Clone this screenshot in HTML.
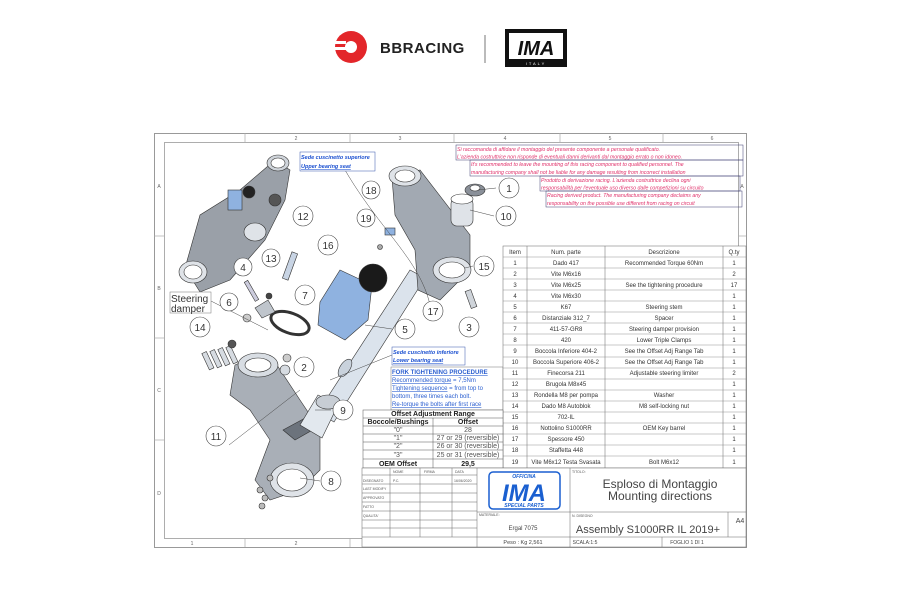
<!DOCTYPE html>
<html><head><meta charset="utf-8"><style>
html,body{margin:0;padding:0;background:#fff;width:900px;height:600px;overflow:hidden}
svg{display:block}
text{font-family:"Liberation Sans",sans-serif}
</style></head><body>
<svg width="900" height="600" viewBox="0 0 900 600" xmlns="http://www.w3.org/2000/svg">
<!-- header logos -->
<g>
<circle cx="351" cy="47" r="16" fill="#e3262a"/>
<circle cx="351" cy="47" r="6" fill="#fff"/>
<rect x="332" y="41" width="14" height="3" fill="#fff"/><rect x="332" y="47" width="14" height="3" fill="#fff"/>
<text x="380" y="53" font-size="15" font-weight="bold" fill="#222" letter-spacing="0.5">BBRACING</text>
<line x1="485" y1="35" x2="485" y2="63" stroke="#777" stroke-width="1"/>
<rect x="505" y="29" width="62" height="38" fill="#111"/>
<rect x="509" y="33" width="54" height="26" fill="#fff"/>
<text x="536" y="55" font-size="20" font-weight="bold" font-style="italic" text-anchor="middle" fill="#111">IMA</text>
<text x="536" y="65" font-size="4" fill="#fff" text-anchor="middle" letter-spacing="2">ITALY</text>
</g>
<!-- frame -->
<rect x="154.5" y="133.5" width="592" height="414" fill="#fff" stroke="#999" stroke-width="1"/>
<rect x="164.5" y="142.5" width="574" height="396" fill="none" stroke="#999" stroke-width="0.8"/>
<g stroke="#aaa" stroke-width="0.7">
<line x1="245" y1="133" x2="245" y2="142"/><line x1="350" y1="133" x2="350" y2="142"/><line x1="454" y1="133" x2="454" y2="142"/><line x1="560" y1="133" x2="560" y2="142"/><line x1="663" y1="133" x2="663" y2="142"/>
<line x1="245" y1="538" x2="245" y2="547"/><line x1="350" y1="538" x2="350" y2="547"/>
<line x1="154" y1="236" x2="164" y2="236"/><line x1="154" y1="338" x2="164" y2="338"/><line x1="154" y1="440" x2="164" y2="440"/>
<line x1="738" y1="236" x2="746" y2="236"/><line x1="738" y1="338" x2="746" y2="338"/>
</g>
<g font-size="5" fill="#666" text-anchor="middle">
<text x="296" y="140">2</text><text x="400" y="140">3</text><text x="505" y="140">4</text><text x="610" y="140">5</text><text x="712" y="140">6</text>
<text x="192" y="545">1</text><text x="296" y="545">2</text>
<text x="159" y="188">A</text><text x="159" y="290">B</text><text x="159" y="392">C</text><text x="159" y="495">D</text>
<text x="742" y="188">A</text><text x="742" y="290">B</text><text x="742" y="392">C</text>
</g>
<!-- parts: small assembled view top-left -->
<g stroke="#333" stroke-width="0.6">
<path d="M185 268 L200 215 L240 190 L275 160 L290 170 L285 200 L265 240 L230 280 L200 292 Z" fill="#9aa0a8"/>
<ellipse cx="193" cy="272" rx="14" ry="11" fill="#dfe3e8"/>
<ellipse cx="193" cy="272" rx="9" ry="7" fill="#fff"/>
<ellipse cx="278" cy="163" rx="11" ry="8" fill="#cfd4da"/>
<ellipse cx="278" cy="163" rx="7" ry="5" fill="#fff"/>
<ellipse cx="255" cy="232" rx="11" ry="9" fill="#dfe3e8"/>
<rect x="228" y="190" width="14" height="20" fill="#8fb2e0"/>
<circle cx="249" cy="192" r="6" fill="#222"/>
<circle cx="275" cy="200" r="6" fill="#555"/>
</g>
<!-- lower triple clamp -->
<g stroke="#333" stroke-width="0.6">
<path d="M235 365 L250 358 L275 362 L300 400 L320 430 L320 470 L300 490 L270 500 L255 480 L270 440 L250 410 L230 395 Z" fill="#a9afb7"/>
<ellipse cx="258" cy="365" rx="20" ry="12" fill="#d8dde3"/>
<ellipse cx="258" cy="365" rx="13" ry="7" fill="#fff"/>
<ellipse cx="292" cy="480" rx="22" ry="17" fill="#dfe3e8"/>
<ellipse cx="292" cy="480" rx="15" ry="11" fill="#fff"/>
<path d="M283 430 L320 410 L330 420 L295 440Z" fill="#6c737c"/>
<g fill="#d6dbe1"><rect x="205" y="352" width="5" height="18" transform="rotate(-25 207 360)"/><rect x="213" y="350" width="5" height="18" transform="rotate(-25 215 358)"/><rect x="221" y="348" width="5" height="18" transform="rotate(-25 223 356)"/><rect x="229" y="346" width="5" height="18" transform="rotate(-25 231 354)"/></g>
<g fill="#bbb"><circle cx="260" cy="490" r="3"/><circle cx="265" cy="498" r="3"/><circle cx="262" cy="506" r="3"/><circle cx="270" cy="478" r="3"/></g>
</g>
<!-- stem tube -->
<g stroke="#333" stroke-width="0.6">
<path d="M318 412 L410 270 L425 278 L334 422 Z" fill="#dbe3ec"/>
<ellipse cx="345" cy="368" rx="10" ry="5" fill="#c9d2dc" transform="rotate(-57 345 368)"/>
<path d="M300 425 L318 395 L338 405 L322 438 Z" fill="#e2e8ee"/>
<ellipse cx="328" cy="402" rx="12" ry="7" fill="#c7cdd4"/>
</g>
<!-- steering damper bracket 7 -->
<g stroke="#333" stroke-width="0.6">
<ellipse cx="290" cy="323" rx="20" ry="10" fill="#fff" stroke-width="3" transform="rotate(20 290 323)"/>
<path d="M255 308 L268 300 L275 312 L262 318Z" fill="#bfc5cc"/>
<rect x="249" y="280" width="4" height="22" fill="#ccd" transform="rotate(-30 251 290)"/>
<rect x="287" y="252" width="6" height="28" fill="#c8d4e4" transform="rotate(20 290 266)"/>
<circle cx="269" cy="296" r="3" fill="#444"/>
<circle cx="247" cy="318" r="4" fill="#ccc"/>
<circle cx="232" cy="344" r="4" fill="#555"/>
<circle cx="287" cy="358" r="4" fill="#ccc"/>
<circle cx="285" cy="370" r="5" fill="#d6dbe1"/>
</g>
<!-- upper triple clamp center -->
<g stroke="#333" stroke-width="0.6">
<path d="M392 178 L420 170 L470 235 L470 270 L440 300 L418 290 L415 250 L395 215 Z" fill="#a2a9b2"/>
<ellipse cx="405" cy="176" rx="16" ry="10" fill="#dfe3e8"/>
<ellipse cx="405" cy="176" rx="10" ry="6" fill="#fff"/>
<ellipse cx="452" cy="270" rx="19" ry="13" fill="#dfe3e8"/>
<ellipse cx="452" cy="270" rx="13" ry="8" fill="#fff"/>
<rect x="451" y="198" width="22" height="28" rx="6" fill="#dfe3e8"/>
<ellipse cx="462" cy="199" rx="11" ry="5" fill="#fff"/>
<ellipse cx="475" cy="190" rx="10" ry="6" fill="#8a9099"/>
<ellipse cx="475" cy="188" rx="5" ry="3" fill="#fff"/>
<rect x="468" y="290" width="6" height="18" fill="#cfd4da" transform="rotate(-20 471 299)"/>
<rect x="385" y="228" width="10" height="7" fill="#8fb2e0"/>
<circle cx="380" cy="247" r="2.5" fill="#aaa"/>
</g>
<!-- key barrel 16 + black cylinder -->
<g stroke="#333" stroke-width="0.6">
<path d="M320 302 L340 270 L372 285 L368 320 L345 340 L318 325Z" fill="#8fb2e0"/>
<ellipse cx="373" cy="278" rx="14" ry="14" fill="#1a1a1a"/>
</g>
<!-- leader lines -->
<g stroke="#444" stroke-width="0.5" fill="none">
<path d="M345 170 C380 230 420 260 430 305"/>
<path d="M392 355 L330 380"/>
<path d="M229 445 L300 390"/>
<path d="M320 481 L300 478"/>
<path d="M496 188 L478 190"/><path d="M494 216 L470 210"/><path d="M473 266 L465 268"/>
<path d="M392 329 L365 325"/><path d="M331 410 L315 410"/>
<path d="M209 300 L268 330"/>
</g>
<!-- balloons -->
<g fill="#fff" stroke="#444" stroke-width="0.6">
<circle cx="509" cy="188" r="10"/><circle cx="506" cy="216" r="10"/><circle cx="371" cy="190" r="9"/><circle cx="366" cy="218" r="9"/>
<circle cx="303" cy="216" r="10"/><circle cx="328" cy="245" r="10"/><circle cx="271" cy="258" r="9"/><circle cx="243" cy="267" r="9"/>
<circle cx="305" cy="295" r="10"/><circle cx="229" cy="302" r="9"/><circle cx="200" cy="327" r="10"/><circle cx="484" cy="266" r="10"/>
<circle cx="433" cy="311" r="10"/><circle cx="405" cy="329" r="10"/><circle cx="469" cy="327" r="10"/><circle cx="304" cy="367" r="10"/>
<circle cx="343" cy="410" r="10"/><circle cx="216" cy="436" r="10"/><circle cx="331" cy="481" r="10"/>
</g>
<g font-size="10" fill="#333" text-anchor="middle">
<text x="509" y="192">1</text><text x="506" y="220">10</text><text x="371" y="194">18</text><text x="366" y="222">19</text>
<text x="303" y="220">12</text><text x="328" y="249">16</text><text x="271" y="262">13</text><text x="243" y="271">4</text>
<text x="305" y="299">7</text><text x="229" y="306">6</text><text x="200" y="331">14</text><text x="484" y="270">15</text>
<text x="433" y="315">17</text><text x="405" y="333">5</text><text x="469" y="331">3</text><text x="304" y="371">2</text>
<text x="343" y="414">9</text><text x="216" y="440">11</text><text x="331" y="485">8</text>
</g>
<rect x="170" y="292" width="41" height="21" fill="#fff" stroke="#777" stroke-width="0.5"/>
<text x="171" y="302" font-size="10" fill="#333">Steering</text><text x="171" y="312" font-size="10" fill="#333">damper</text>
<!-- blue notes -->
<g font-size="5.5" fill="#1a4fd0" font-style="italic" font-weight="bold">
<rect x="300" y="152" width="75" height="19" fill="#fff" stroke="#3355aa" stroke-width="0.5"/>
<text x="301" y="159">Sede cuscinetto superiore</text><text x="301" y="168" text-decoration="underline">Upper bearing seat</text>
<rect x="392" y="347" width="73" height="18" fill="#fff" stroke="#3355aa" stroke-width="0.5"/>
<text x="393" y="354">Sede cuscinetto inferiore</text><text x="393" y="362" text-decoration="underline">Lower bearing seat</text>
</g>
<rect x="391" y="367" width="112" height="43" fill="#fff" stroke="#777" stroke-width="0.5"/>
<g font-size="6" fill="#2b5fd0">
<text x="392" y="374" font-weight="bold" text-decoration="underline">FORK TIGHTENING PROCEDURE</text>
<text x="392" y="382"><tspan text-decoration="underline">Recommended torque</tspan> = 7,5Nm</text>
<text x="392" y="390"><tspan text-decoration="underline">Tightening sequence</tspan> = from top to</text>
<text x="392" y="398">bottom, three times each bolt.</text>
<text x="392" y="406" text-decoration="underline">Re-torque the bolts after first race</text>
</g>
<!-- red warnings -->
<g fill="none" stroke="#3a3a70" stroke-width="0.5">
<rect x="456" y="145" width="287" height="15"/><rect x="470" y="160" width="273" height="16"/><rect x="540" y="176" width="200" height="15"/><rect x="546" y="191" width="196" height="16"/>
</g>
<g font-size="5.2" fill="#e0306a" font-style="italic">
<text x="457" y="151">Si raccomanda di affidare il montaggio del presente componente a personale qualificato.</text>
<text x="457" y="158.5">L'azienda costruttrice non risponde di eventuali danni derivanti dal montaggio errato o non idoneo.</text>
<text x="471" y="166">It's recommended to leave the mounting of this racing component to qualified personnel. The</text>
<text x="471" y="174">manufacturing company shall not be liable for any damage resulting from incorrect installation</text>
<text x="541" y="182">Prodotto di derivazione racing. L'azienda costruttrice declina ogni</text>
<text x="541" y="189.5">responsabilità per l'eventuale uso diverso dalle competizioni su circuito</text>
<text x="547" y="197">Racing derived product. The manufacturing company declaims any</text>
<text x="547" y="205">responsability on the possible use different from racing on circuit</text>
</g>
<!-- BOM table -->
<g stroke="#666" stroke-width="0.5" fill="none">
<rect x="503" y="246" width="243" height="222" fill="#fff"/>
<line x1="527" y1="246" x2="527" y2="468"/><line x1="605" y1="246" x2="605" y2="468"/><line x1="723" y1="246" x2="723" y2="468"/>
</g>
<g id="rows" stroke="#777" stroke-width="0.4">
<line x1="503" y1="257" x2="746" y2="257"/><line x1="503" y1="268" x2="746" y2="268"/><line x1="503" y1="279" x2="746" y2="279"/><line x1="503" y1="290" x2="746" y2="290"/><line x1="503" y1="301" x2="746" y2="301"/><line x1="503" y1="312" x2="746" y2="312"/><line x1="503" y1="323" x2="746" y2="323"/><line x1="503" y1="334" x2="746" y2="334"/><line x1="503" y1="345" x2="746" y2="345"/><line x1="503" y1="357" x2="746" y2="357"/><line x1="503" y1="368" x2="746" y2="368"/><line x1="503" y1="379" x2="746" y2="379"/><line x1="503" y1="390" x2="746" y2="390"/><line x1="503" y1="401" x2="746" y2="401"/><line x1="503" y1="412" x2="746" y2="412"/><line x1="503" y1="423" x2="746" y2="423"/><line x1="503" y1="434" x2="746" y2="434"/><line x1="503" y1="445" x2="746" y2="445"/><line x1="503" y1="456" x2="746" y2="456"/>
</g>
<g font-size="6" fill="#333" text-anchor="middle">
<text x="515" y="254">Item</text><text x="566" y="254">Num. parte</text><text x="664" y="254">Descrizione</text><text x="734" y="254">Q.ty</text>
<text x="515" y="265">1</text><text x="566" y="265">Dado 417</text><text x="664" y="265">Recommended Torque 60Nm</text><text x="734" y="265">1</text>
<text x="515" y="276">2</text><text x="566" y="276">Vite M6x16</text><text x="734" y="276">2</text>
<text x="515" y="287">3</text><text x="566" y="287">Vite M6x25</text><text x="664" y="287">See the tightening procedure</text><text x="734" y="287">17</text>
<text x="515" y="298">4</text><text x="566" y="298">Vite M6x30</text><text x="734" y="298">1</text>
<text x="515" y="309">5</text><text x="566" y="309">K67</text><text x="664" y="309">Steering stem</text><text x="734" y="309">1</text>
<text x="515" y="320">6</text><text x="566" y="320">Distanziale 312_7</text><text x="664" y="320">Spacer</text><text x="734" y="320">1</text>
<text x="515" y="331">7</text><text x="566" y="331">411-57-GR8</text><text x="664" y="331">Steering damper provision</text><text x="734" y="331">1</text>
<text x="515" y="342">8</text><text x="566" y="342">420</text><text x="664" y="342">Lower Triple Clamps</text><text x="734" y="342">1</text>
<text x="515" y="353">9</text><text x="566" y="353">Boccola Inferiore 404-2</text><text x="664" y="353">See the Offset Adj Range Tab</text><text x="734" y="353">1</text>
<text x="515" y="364">10</text><text x="566" y="364">Boccola Superiore 406-2</text><text x="664" y="364">See the Offset Adj Range Tab</text><text x="734" y="364">1</text>
<text x="515" y="375">11</text><text x="566" y="375">Finecorsa 211</text><text x="664" y="375">Adjustable steering limiter</text><text x="734" y="375">2</text>
<text x="515" y="386">12</text><text x="566" y="386">Brugola M8x45</text><text x="734" y="386">1</text>
<text x="515" y="397">13</text><text x="566" y="397">Rondella M8 per pompa</text><text x="664" y="397">Washer</text><text x="734" y="397">1</text>
<text x="515" y="408">14</text><text x="566" y="408">Dado M8 Autoblok</text><text x="664" y="408">M8 self-locking nut</text><text x="734" y="408">1</text>
<text x="515" y="419">15</text><text x="566" y="419">702-IL</text><text x="734" y="419">1</text>
<text x="515" y="430">16</text><text x="566" y="430">Nottolino S1000RR</text><text x="664" y="430">OEM Key barrel</text><text x="734" y="430">1</text>
<text x="515" y="441">17</text><text x="566" y="441">Spessore 450</text><text x="734" y="441">1</text>
<text x="515" y="452">18</text><text x="566" y="452">Staffetta 448</text><text x="734" y="452">1</text>
<text x="515" y="464">19</text><text x="566" y="464">Vite M6x12 Testa Svasata</text><text x="664" y="464">Bolt M6x12</text><text x="734" y="464">1</text>
</g>
<!-- Offset table -->
<g stroke="#555" stroke-width="0.5" fill="none">
<rect x="363" y="410" width="140" height="58" fill="#fff"/>
<line x1="363" y1="418" x2="503" y2="418"/><line x1="363" y1="426" x2="503" y2="426"/><line x1="363" y1="434" x2="503" y2="434"/><line x1="363" y1="442" x2="503" y2="442"/><line x1="363" y1="450" x2="503" y2="450"/><line x1="363" y1="459" x2="503" y2="459"/>
<line x1="433" y1="418" x2="433" y2="468"/>
</g>
<g font-size="7" fill="#222" text-anchor="middle">
<text x="433" y="416" font-weight="bold">Offset Adjustment Range</text>
<text x="398" y="424" font-weight="bold">Boccole/Bushings</text><text x="468" y="424" font-weight="bold">Offset</text>
<text x="398" y="432" fill="#555">"0"</text><text x="468" y="432" fill="#555">28</text>
<text x="398" y="440" fill="#555">"1"</text><text x="468" y="440" fill="#555">27 or 29 (reversible)</text>
<text x="398" y="448" fill="#555">"2"</text><text x="468" y="448" fill="#555">26 or 30 (reversible)</text>
<text x="398" y="457" fill="#555">"3"</text><text x="468" y="457" fill="#555">25 or 31 (reversible)</text>
<text x="398" y="466" font-weight="bold">OEM Offset</text><text x="468" y="466" font-weight="bold">29,5</text>
</g>
<!-- title block -->
<g stroke="#666" stroke-width="0.5" fill="none">
<rect x="362" y="468" width="384" height="79" fill="#fff"/>
<line x1="390" y1="468" x2="390" y2="537"/><line x1="420" y1="468" x2="420" y2="537"/><line x1="452" y1="468" x2="452" y2="537"/>
<line x1="477" y1="468" x2="477" y2="547"/><line x1="570" y1="468" x2="570" y2="547"/><line x1="728" y1="512" x2="728" y2="537"/>
<line x1="477" y1="512" x2="746" y2="512"/><line x1="362" y1="537" x2="746" y2="537"/><line x1="662" y1="537" x2="662" y2="547"/>
<line x1="362" y1="475" x2="477" y2="475"/><line x1="362" y1="484" x2="477" y2="484"/><line x1="362" y1="493" x2="477" y2="493"/><line x1="362" y1="502" x2="477" y2="502"/><line x1="362" y1="511" x2="477" y2="511"/><line x1="362" y1="520" x2="477" y2="520"/><line x1="362" y1="528" x2="477" y2="528"/>
</g>
<g font-size="3.5" fill="#555">
<text x="393" y="473">NOME</text><text x="424" y="473">FIRMA</text><text x="455" y="473">DATA</text>
<text x="363" y="482">DISEGNATO</text><text x="393" y="482">P.C.</text><text x="454" y="482">16/06/2020</text>
<text x="363" y="490">LAST MODIFY</text><text x="363" y="499">APPROVATO</text><text x="363" y="508">FATTO</text><text x="363" y="517">QUALITA'</text>
<text x="479" y="516">MATERIALE:</text><text x="572" y="473">TITOLO:</text><text x="572" y="517">N. DISEGNO</text>
</g>
<rect x="489" y="472" width="71" height="37" rx="4" fill="#fff" stroke="#1a5fd0" stroke-width="1.5"/>
<text x="524" y="478" font-size="5" fill="#1a5fd0" font-style="italic" font-weight="bold" text-anchor="middle">OFFICINA</text>
<text x="524" y="501" font-size="24" fill="#1a5fd0" font-style="italic" font-weight="bold" text-anchor="middle">IMA</text>
<text x="524" y="507" font-size="5" fill="#1a5fd0" font-style="italic" font-weight="bold" text-anchor="middle">SPECIAL PARTS</text>
<g fill="#444" text-anchor="middle">
<text x="660" y="488" font-size="12">Esploso di Montaggio</text>
<text x="660" y="500" font-size="12">Mounting directions</text>
<text x="648" y="533" font-size="11">Assembly S1000RR IL 2019+</text>
<text x="740" y="523" font-size="7">A4</text>
<text x="523" y="530" font-size="6">Ergal 7075</text>
<text x="523" y="544" font-size="5.5">Peso : Kg 2,561</text>
<text x="585" y="544" font-size="5">SCALA:1:5</text>
<text x="687" y="544" font-size="5">FOGLIO 1 DI 1</text>
</g>
</svg>
</body></html>
